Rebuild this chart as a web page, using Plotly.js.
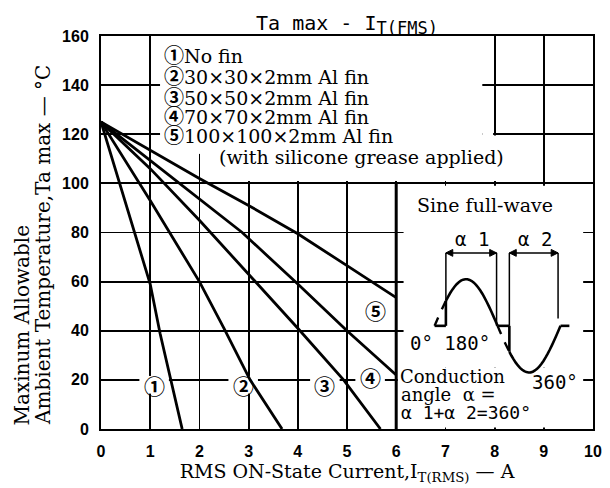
<!DOCTYPE html>
<html>
<head>
<meta charset="utf-8">
<script src="https://cdn.plot.ly/plotly-3.0.1.min.js"></script>
<style>html,body{margin:0;padding:0;background:#fff;}#chart{width:610px;height:488px;}</style>
</head>
<body>
<div id="chart"></div>
<script>
// ---- data ----
const seriesNames = ['①', '②', '③', '④', '⑤'];
const legendLabels = ['No fin', '30×30×2mm Al fin', '50×50×2mm Al fin', '70×70×2mm Al fin', '100×100×2mm Al fin'];
const legendNote = '(with silicone grease applied)';
const x1 = [0, 0.5, 1.0, 1.2, 1.42, 1.65];
const y1 = [125, 91.5, 59, 39, 20, 0];
const x2 = [0, 1, 2, 2.5, 3.03, 3.68];
const y2 = [125, 93, 60, 41, 20, 0];
const x3 = [0, 1, 2, 3, 4, 4.93, 5.68];
const y3 = [125, 106, 85, 63, 41, 20, 0];
const x4 = [0, 2, 2.87, 4, 5, 6];
const y4 = [125, 93.5, 80, 59, 40, 22];
const x5 = [0, 1, 2, 3, 4, 5, 6];
const y5 = [125, 113.5, 102, 91, 79.5, 66.5, 53.5];
const xTickVals = [0, 1, 2, 3, 4, 5, 6, 7, 8, 9, 10];
const yTickVals = [0, 20, 40, 60, 80, 100, 120, 140, 160];
// label positions of the circled curve numbers
const labelX = [1.08, 2.89, 4.55, 5.47, 5.57];
const labelY = [18, 18, 18, 21.3, 48.5];

const SERIF = 'DejaVu Serif, Liberation Serif, serif';
const MONO = 'DejaVu Sans Mono, Liberation Mono, monospace';
const CIRC = 'Noto Sans CJK JP, DejaVu Sans, sans-serif';

const xs = [x1, x2, x3, x4, x5], ys = [y1, y2, y3, y4, y5];
const traces = xs.map((xv, i) => ({
  x: xv, y: ys[i], type: 'scatter', mode: 'lines', name: seriesNames[i],
  line: {color: '#000', width: 2.8}, showlegend: false, hoverinfo: 'skip'
}));

// ---- schematic of the sine full-wave (inset illustration) ----
const yb = 42, A = 19, z0 = 6.78, L = 1.28, z1 = z0 + L, z2 = z0 + 2 * L;
const xf1 = 7.01, xf2 = 8.30, yBr = 71.7, xR2 = 9.29;
function wave(xa, xb, sign) {
  const n = 24; let p = '';
  for (let k = 0; k <= n; k++) {
    const xx = xa + (xb - xa) * k / n;
    const zz = sign > 0 ? z0 : z1;
    const yy = yb + sign * A * Math.sin(Math.PI * (xx - zz) / L);
    p += (k === 0 ? 'M' : 'L') + xx.toFixed(4) + ',' + yy.toFixed(3) + ' ';
  }
  return p;
}
function head(xt, dir) {
  const b = xt + dir * 0.14;
  return {type: 'path', path: 'M' + xt + ',' + yBr + ' L' + b + ',' + (yBr + 1.4) + ' L' + b + ',' + (yBr - 1.4) + ' Z',
    fillcolor: '#000', line: {color: '#000', width: 1}};
}
const ySF1 = yb + A * Math.sin(Math.PI * (xf1 - z0) / L);
const ySF2 = yb - A * Math.sin(Math.PI * (xf2 - z1) / L);
const blk = {color: '#000', width: 2.6};
const thin = {color: '#000', width: 1.5};
const white = (x0, x1, y0, y1) => ({type: 'rect', layer: 'between', x0, x1, y0, y1, fillcolor: '#fff', line: {width: 0}});
const shapes = [
  // white boxes that hide the grid behind the key and the inset
  white(1.2, 7.75, 119, 160),
  white(7.75, 7.97, 119.3, 120.8),
  white(2.2, 8.97, 101, 119.5),
  white(1.9, 2.25, 112, 119.5),
  white(6.15, 9.8, 25, 99),
  white(6.03, 9.8, 0.6, 25)
];
// grid hidden behind the circled curve numbers
labelX.forEach((lx, i) => shapes.push(white(lx - 0.3, lx + 0.3, labelY[i] - 3.6, labelY[i] + 3.6)));
shapes.push(
  {type: 'line', layer: 'between', x0: 6, x1: 6, y0: 0, y1: 100, line: {color: '#000', width: 3}},
  // wave
  {type: 'path', path: wave(xf1, z1, 1), line: blk},
  {type: 'path', path: wave(z0, xf1, 1), line: {color: '#000', width: 2.4, dash: 'dash'}},
  {type: 'path', path: wave(z1, xf2, -1), line: {color: '#000', width: 2.4, dash: 'dash'}},
  {type: 'path', path: wave(xf2, z2, -1), line: blk},
  {type: 'line', x0: z0, x1: xf1, y0: yb, y1: yb, line: blk},
  {type: 'line', x0: xf1, x1: xf1, y0: yb, y1: ySF1, line: blk},
  {type: 'line', x0: z1, x1: xf2, y0: yb, y1: yb, line: blk},
  {type: 'line', x0: xf2, x1: xf2, y0: yb, y1: ySF2, line: blk},
  {type: 'line', x0: z2, x1: 9.52, y0: yb, y1: yb, line: blk},
  // brackets alpha1 / alpha2
  {type: 'line', x0: xf1, x1: xf1, y0: ySF1, y1: yBr, line: thin},
  {type: 'line', x0: z1 - 0.02, x1: z1 - 0.02, y0: yb, y1: yBr, line: thin},
  {type: 'line', x0: xf1, x1: z1 - 0.02, y0: yBr, y1: yBr, line: thin},
  {type: 'line', x0: xf2, x1: xf2, y0: yb, y1: yBr, line: thin},
  {type: 'line', x0: xR2, x1: xR2, y0: 45, y1: yBr, line: thin},
  {type: 'line', x0: xf2, x1: xR2, y0: yBr, y1: yBr, line: thin},
  head(xf1, 1), head(z1 - 0.02, -1), head(xf2, 1), head(xR2, -1)
);

const annotations = [];
// y-axis title (two lines, both starting at the bottom)
annotations.push({xref: 'paper', yref: 'paper', x: -0.1606, y: 0.005, xanchor: 'center', yanchor: 'bottom',
  textangle: -90, showarrow: false, text: 'Maxinum Allowable', font: {family: SERIF, size: 20, color: '#000'}});
annotations.push({xref: 'paper', yref: 'paper', x: -0.118, y: 0.005, xanchor: 'center', yanchor: 'bottom',
  textangle: -90, showarrow: false, text: 'Ambient Temperature,Ta max — °C', font: {family: SERIF, size: 20, color: '#000'}});
// key
const keyY = [152.3, 144.0, 135.4, 127.5, 119.8];
legendLabels.forEach((t, i) => annotations.push({x: 1.24, y: keyY[i], xref: 'x', yref: 'y', xanchor: 'left', yanchor: 'middle',
  showarrow: false, text: '<span style="font-family:Noto Sans CJK JP;font-size:20px;font-weight:bold">' + seriesNames[i] + '</span>' + t,
  font: {family: SERIF, size: 19, color: '#000'}}));
annotations.push({x: 2.36, y: 110.9, xref: 'x', yref: 'y', xanchor: 'left', yanchor: 'middle', showarrow: false,
  text: legendNote, font: {family: SERIF, size: 19, color: '#000'}});
// circled curve numbers
seriesNames.forEach((t, i) => annotations.push({x: labelX[i], y: labelY[i], xref: 'x', yref: 'y', showarrow: false,
  text: t, font: {family: CIRC, size: 21, weight: 'bold', color: '#000'}}));
// inset texts
annotations.push({x: 7.81, y: 91.2, xref: 'x', yref: 'y', showarrow: false, text: 'Sine full-wave', font: {family: SERIF, size: 19, color: '#000'}});
annotations.push({x: 7.54, y: 77.5, xref: 'x', yref: 'y', showarrow: false, text: 'α 1', font: {family: MONO, size: 19, color: '#000'}});
annotations.push({x: 8.82, y: 77.5, xref: 'x', yref: 'y', showarrow: false, text: 'α 2', font: {family: MONO, size: 19, color: '#000'}});
annotations.push({x: 7.10, y: 35, xref: 'x', yref: 'y', showarrow: false, text: '0° 180°', font: {family: MONO, size: 19, color: '#000'}});
annotations.push({x: 9.23, y: 19.1, xref: 'x', yref: 'y', showarrow: false, text: '360°', font: {family: MONO, size: 19, color: '#000'}});
annotations.push({x: 6.03, y: 21.5, xref: 'x', yref: 'y', xanchor: 'left', showarrow: false, text: 'Conduction', font: {family: SERIF, size: 18, color: '#000'}});
annotations.push({x: 6.05, y: 14.2, xref: 'x', yref: 'y', xanchor: 'left', showarrow: false, text: 'angle  α =', font: {family: SERIF, size: 18, color: '#000'}});
annotations.push({x: 6.05, y: 6.8, xref: 'x', yref: 'y', xanchor: 'left', showarrow: false, text: 'α 1+α 2=360°', font: {family: MONO, size: 18, color: '#000'}});

const axisCommon = {
  showgrid: true, gridcolor: '#000', gridwidth: 1.8, zeroline: false,
  showline: true, linecolor: '#000', linewidth: 2, mirror: true, ticks: '',
  tickfont: {family: 'Liberation Sans, Arial, sans-serif', size: 16, weight: 'bold', color: '#000'}
};
const layout = {
  width: 610, height: 488,
  margin: {l: 101, r: 17, t: 36, b: 59},
  paper_bgcolor: '#fff', plot_bgcolor: '#fff',
  showlegend: false,
  title: {text: 'Ta max - I<sub><span style="font-size:17px">T(FMS)</span></sub>', font: {family: MONO, size: 20, color: '#000'},
    xref: 'paper', x: 0.5, xanchor: 'center', yref: 'container', y: 0.953, yanchor: 'middle'},
  xaxis: Object.assign({}, axisCommon, {range: [0, 10], tickvals: xTickVals, ticklabelstandoff: 7,
    title: {text: 'RMS ON-State Current,I<sub>T(RMS)</sub> — A', font: {family: SERIF, size: 19, color: '#000'}, standoff: 2}}),
  yaxis: Object.assign({}, axisCommon, {range: [0, 160], tickvals: yTickVals, ticklabelstandoff: 7}),
  shapes: shapes,
  annotations: annotations
};
Plotly.newPlot('chart', traces, layout, {displayModeBar: false, staticPlot: true});
</script>
</body>
</html>
